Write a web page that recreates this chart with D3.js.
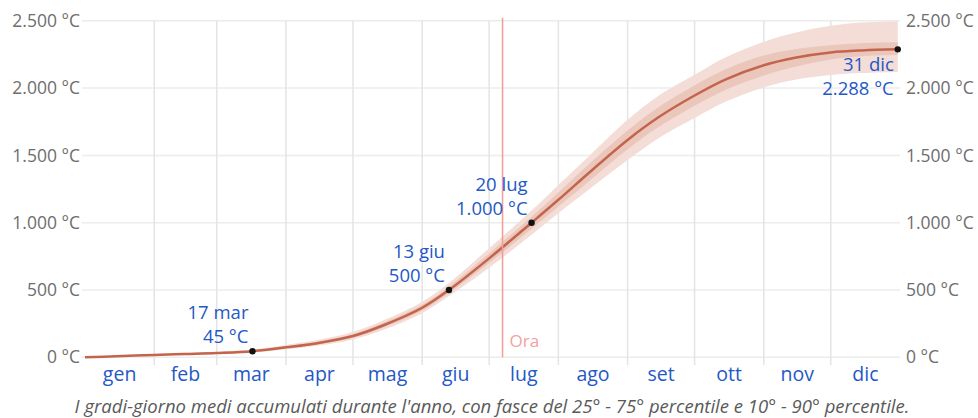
<!DOCTYPE html>
<html>
<head>
<meta charset="utf-8">
<script src="https://cdn.jsdelivr.net/npm/d3@7"></script>
<style>
  body { margin: 0; background: #fff; }
  svg { font-family: "Open Sans", sans-serif; }
</style>
</head>
<body>
<div id="chart"></div>
<script>
const dates = ["01-01", "01-15", "02-01", "02-15", "03-01", "03-17", "04-01", "04-15",
  "05-01", "05-15", "06-01", "06-13", "07-01", "07-20", "08-01", "08-15", "09-01",
  "09-15", "10-01", "10-15", "11-01", "11-15", "12-01", "12-15", "12-31"];
const p50 = [0, 8, 18, 25, 32, 45, 74, 105, 158, 240, 368, 500, 735, 1000, 1170, 1375,
  1615, 1785, 1945, 2065, 2170, 2226, 2265, 2280, 2288];
const p90 = [0, 11, 24, 33, 42, 58, 92, 128, 188, 277, 413, 552, 810, 1090, 1280, 1500,
  1765, 1945, 2100, 2230, 2345, 2412, 2463, 2487, 2497];
const p10 = [0, 6, 14, 19, 24, 35, 59, 86, 133, 207, 328, 455, 665, 910, 1070, 1250,
  1465, 1630, 1778, 1900, 2005, 2062, 2098, 2112, 2120];
const p75 = [0, 9, 21, 29, 37, 51, 83, 116, 172, 258, 390, 525, 772, 1045, 1225, 1440,
  1685, 1860, 2020, 2140, 2242, 2288, 2318, 2333, 2340];
const p25 = [0, 7, 16, 22, 28, 40, 67, 95, 145, 223, 347, 477, 700, 955, 1120, 1312,
  1545, 1712, 1868, 1988, 2093, 2158, 2213, 2237, 2245];

const months = ["gen", "feb", "mar", "apr", "mag", "giu", "lug", "ago", "set", "ott", "nov", "dic"];
const yTicks = [0, 500, 1000, 1500, 2000, 2500];

// punti evidenziati
const marks = [
  { date: "03-17", label: "17 mar", value: 45, below: false },
  { date: "06-13", label: "13 giu", value: 500, below: false },
  { date: "07-20", label: "20 lug", value: 1000, below: false },
  { date: "12-31", label: "31 dic", value: 2288, below: true },
];
const oraDate = "07-07";
const caption = "I gradi-giorno medi accumulati durante l'anno, con fasce del 25° - 75° percentile e 10° - 90° percentile.";

const width = 978;
const height = 418;
const parse = (s) => new Date(2023, +s.slice(0, 2) - 1, +s.slice(3, 5));
const fmt = d3.formatLocale({ decimal: ",", thousands: ".", grouping: [3], currency: ["", "€"] }).format(",");

const rows = dates.map((d, i) => ({
  date: parse(d), p10: p10[i], p25: p25[i], p50: p50[i], p75: p75[i], p90: p90[i],
}));

const x = d3.scaleTime()
  .domain([new Date(2023, 0, 1), new Date(2024, 0, 1)])
  .range([85, 900]);
const y = d3.scaleLinear().domain([0, 2500]).range([357.3, 20.8]);

const svg = d3.select("#chart").append("svg")
  .attr("width", width)
  .attr("height", height);

// griglia orizzontale
svg.append("g").selectAll("line")
  .data(yTicks)
  .join("line")
  .attr("x1", 82).attr("x2", 900)
  .attr("y1", (d) => y(d)).attr("y2", (d) => y(d))
  .attr("stroke", "#ececec")
  .attr("stroke-width", 1.5);

// griglia verticale ai confini dei mesi
const monthStarts = d3.range(1, 12).map((m) => new Date(2023, m, 1));
svg.append("g").selectAll("line")
  .data(monthStarts)
  .join("line")
  .attr("x1", (d) => x(d)).attr("x2", (d) => x(d))
  .attr("y1", y(2500)).attr("y2", 365)
  .attr("stroke", "#e4e4e4")
  .attr("stroke-width", 1.5);

// etichette asse y
svg.append("g").selectAll("text")
  .data(yTicks)
  .join("text")
  .attr("x", 80)
  .attr("y", (d) => y(d))
  .attr("dy", "0.35em")
  .attr("text-anchor", "end")
  .attr("font-size", 17.5)
  .attr("fill", "#6e6e6e")
  .text((d) => fmt(d) + " °C");

svg.append("g").selectAll("text")
  .data(yTicks)
  .join("text")
  .attr("x", 906)
  .attr("y", (d) => y(d))
  .attr("dy", "0.35em")
  .attr("font-size", 17.5)
  .attr("fill", "#6e6e6e")
  .text((d) => fmt(d) + " °C");

// etichette mesi
svg.append("g").selectAll("text")
  .data(months)
  .join("text")
  .attr("x", (d, i) => (x(new Date(2023, i, 1)) + x(new Date(2023, i + 1, 1))) / 2)
  .attr("y", 381)
  .attr("text-anchor", "middle")
  .attr("font-size", 19.5)
  .attr("fill", "#2458c6")
  .text((d) => d);

// fasce percentili
const band = (lo, hi) => d3.area()
  .x((d) => x(d.date))
  .y0((d) => y(d[lo]))
  .y1((d) => y(d[hi]))
  .curve(d3.curveCatmullRom);

svg.append("path")
  .datum(rows)
  .attr("d", band("p10", "p90"))
  .attr("fill", "#f3ddd6");

svg.append("path")
  .datum(rows)
  .attr("d", band("p25", "p75"))
  .attr("fill", "#eac6bb");

svg.append("path")
  .datum(rows)
  .attr("d", d3.line().x((d) => x(d.date)).y((d) => y(d.p50)).curve(d3.curveCatmullRom))
  .attr("fill", "none")
  .attr("stroke", "#c3654c")
  .attr("stroke-width", 2.5);

// linea "Ora"
const xo = x(parse(oraDate));
svg.append("line")
  .attr("x1", xo).attr("x2", xo)
  .attr("y1", y(2500) - 3).attr("y2", y(0))
  .attr("stroke", "#f59a9a")
  .attr("stroke-width", 1.5);
svg.append("text")
  .attr("x", xo + 7)
  .attr("y", 347)
  .attr("font-size", 17)
  .attr("fill", "#f5a0a0")
  .text("Ora");

// punti e annotazioni
const markG = svg.append("g").selectAll("g")
  .data(marks)
  .join("g");

markG.append("circle")
  .attr("cx", (d) => x(parse(d.date)))
  .attr("cy", (d) => y(d.value))
  .attr("r", 3.2)
  .attr("fill", "#111");

markG.append("text")
  .attr("x", (d) => x(parse(d.date)) - 4)
  .attr("y", (d) => y(d.value) + (d.below ? 22 : -32))
  .attr("text-anchor", "end")
  .attr("font-size", 18.5)
  .attr("fill", "#2458c6")
  .text((d) => d.label);

markG.append("text")
  .attr("x", (d) => x(parse(d.date)) - 4)
  .attr("y", (d) => y(d.value) + (d.below ? 46 : -8))
  .attr("text-anchor", "end")
  .attr("font-size", 18.5)
  .attr("fill", "#2458c6")
  .text((d) => fmt(d.value) + " °C");

// didascalia
svg.append("text")
  .attr("x", 492)
  .attr("y", 413)
  .attr("text-anchor", "middle")
  .attr("font-size", 18.5)
  .attr("font-style", "italic")
  .attr("fill", "#5a5a5a")
  .text(caption);
</script>
</body>
</html>
